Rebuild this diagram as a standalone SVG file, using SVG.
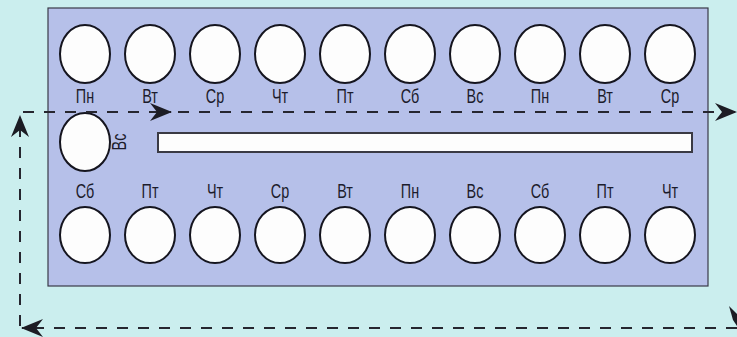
<svg xmlns="http://www.w3.org/2000/svg" width="737" height="337" viewBox="0 0 737 337">
<style>
.day{fill:#fdfdfd;stroke:#15151f;stroke-width:2}
.lbl{font-family:"Liberation Sans",Arial,sans-serif;font-size:20px;fill:#1c1c2c;text-anchor:middle}
.dash{fill:none;stroke:#26262f;stroke-width:2;stroke-dasharray:11 10}
</style>
<defs>
<marker id="ah" markerUnits="userSpaceOnUse" markerWidth="24" markerHeight="18" refX="21" refY="9" orient="auto">
<path d="M0,0 L22,9 L0,18 L7,9 Z" fill="#1c1c24"/>
</marker>
</defs>
<rect width="737" height="337" fill="#cbeeee"/>
<rect x="48" y="8" width="660" height="278" fill="#b6c0e9" stroke="#3a3a48" stroke-width="1.2"/>
<rect x="158" y="133" width="534" height="19" fill="#fdfdfd" stroke="#3a3a44" stroke-width="2"/>

<g id="top-row">
<g id="t1"><ellipse class="day" cx="85" cy="54" rx="25" ry="29"/><text class="lbl" transform="translate(85,103) scale(0.72,1)">Пн</text></g>
<g id="t2"><ellipse class="day" cx="150" cy="54" rx="25" ry="29"/><text class="lbl" transform="translate(150,103) scale(0.72,1)">Вт</text></g>
<g id="t3"><ellipse class="day" cx="215" cy="54" rx="25" ry="29"/><text class="lbl" transform="translate(215,103) scale(0.72,1)">Ср</text></g>
<g id="t4"><ellipse class="day" cx="280" cy="54" rx="25" ry="29"/><text class="lbl" transform="translate(280,103) scale(0.72,1)">Чт</text></g>
<g id="t5"><ellipse class="day" cx="345" cy="54" rx="25" ry="29"/><text class="lbl" transform="translate(345,103) scale(0.72,1)">Пт</text></g>
<g id="t6"><ellipse class="day" cx="410" cy="54" rx="25" ry="29"/><text class="lbl" transform="translate(410,103) scale(0.72,1)">Сб</text></g>
<g id="t7"><ellipse class="day" cx="475" cy="54" rx="25" ry="29"/><text class="lbl" transform="translate(475,103) scale(0.72,1)">Вс</text></g>
<g id="t8"><ellipse class="day" cx="540" cy="54" rx="25" ry="29"/><text class="lbl" transform="translate(540,103) scale(0.72,1)">Пн</text></g>
<g id="t9"><ellipse class="day" cx="605" cy="54" rx="25" ry="29"/><text class="lbl" transform="translate(605,103) scale(0.72,1)">Вт</text></g>
<g id="t10"><ellipse class="day" cx="670" cy="54" rx="25" ry="29"/><text class="lbl" transform="translate(670,103) scale(0.72,1)">Ср</text></g>
</g>

<g id="mid">
<ellipse class="day" cx="85" cy="142" rx="25" ry="29"/>
<text class="lbl" transform="translate(126,142) rotate(-90) scale(0.72,1)">Вс</text>
</g>

<g id="bottom-row">
<g id="b1"><text class="lbl" transform="translate(85,198) scale(0.72,1)">Сб</text><ellipse class="day" cx="85" cy="235" rx="25" ry="28"/></g>
<g id="b2"><text class="lbl" transform="translate(150,198) scale(0.72,1)">Пт</text><ellipse class="day" cx="150" cy="235" rx="25" ry="28"/></g>
<g id="b3"><text class="lbl" transform="translate(215,198) scale(0.72,1)">Чт</text><ellipse class="day" cx="215" cy="235" rx="25" ry="28"/></g>
<g id="b4"><text class="lbl" transform="translate(280,198) scale(0.72,1)">Ср</text><ellipse class="day" cx="280" cy="235" rx="25" ry="28"/></g>
<g id="b5"><text class="lbl" transform="translate(345,198) scale(0.72,1)">Вт</text><ellipse class="day" cx="345" cy="235" rx="25" ry="28"/></g>
<g id="b6"><text class="lbl" transform="translate(410,198) scale(0.72,1)">Пн</text><ellipse class="day" cx="410" cy="235" rx="25" ry="28"/></g>
<g id="b7"><text class="lbl" transform="translate(475,198) scale(0.72,1)">Вс</text><ellipse class="day" cx="475" cy="235" rx="25" ry="28"/></g>
<g id="b8"><text class="lbl" transform="translate(540,198) scale(0.72,1)">Сб</text><ellipse class="day" cx="540" cy="235" rx="25" ry="28"/></g>
<g id="b9"><text class="lbl" transform="translate(605,198) scale(0.72,1)">Пт</text><ellipse class="day" cx="605" cy="235" rx="25" ry="28"/></g>
<g id="b10"><text class="lbl" transform="translate(670,198) scale(0.72,1)">Чт</text><ellipse class="day" cx="670" cy="235" rx="25" ry="28"/></g>
</g>

<g id="connectors">
<path class="dash" d="M737,328 L22,328" marker-end="url(#ah)"/>
<path class="dash" d="M20,326 L20,116" marker-end="url(#ah)"/>
<path class="dash" d="M23,112 L171,112" marker-end="url(#ah)"/>
<path class="dash" d="M178,112 L736,112" marker-end="url(#ah)"/>
<polygon points="729,306 737,314 737,326 733,320" fill="#1c1c24"/>
</g>
</svg>
